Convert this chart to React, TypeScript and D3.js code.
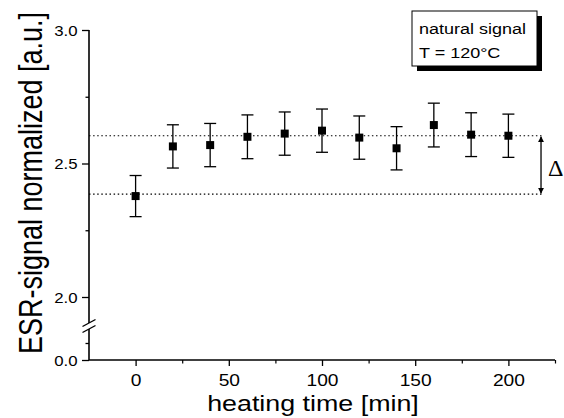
import React, { useEffect, useRef } from "react";
import * as d3 from "d3";

// heating time [min] and normalized ESR signal [a.u.]
const times = [0, 20, 40, 60, 80, 100, 120, 140, 160, 180, 200];
const signal = [2.378, 2.564, 2.569, 2.6, 2.612, 2.623, 2.597, 2.557, 2.644, 2.608, 2.604];
const errors = [0.077, 0.081, 0.081, 0.082, 0.081, 0.081, 0.081, 0.081, 0.082, 0.082, 0.081];

const xMajorTicks = [0, 50, 100, 150, 200];
const xMinorTicks = [25, 75, 125, 175, 225];
const yMajorTicks = [2.0, 2.5, 3.0];
const yMinorTicks = [2.25, 2.75];
const yLowMajorTicks = [0.0];
const yLowMinorTicks = [0.25];

// dotted reference levels and delta marker
const refLevels = [2.385, 2.604];
const refEnd = 219;
const deltaAt = 217.5;

const legendLines = ["natural signal", "T = 120°C"];

const FONT = "'Liberation Sans', Arial, Helvetica, sans-serif";
const STRETCH = "scale(1.2,1)";

const App = () => {
  const svgRef = useRef<SVGSVGElement | null>(null);

  useEffect(() => {
    const svg = d3.select(svgRef.current);
    svg.selectAll("*").remove();

    const width = 564;
    const height = 418;
    const x = d3.scaleLinear().domain([-25, 225]).range([89, 555]);
    const y = d3.scaleLinear().domain([2, 3]).range([297, 30]);
    const yLow = d3.scaleLinear().domain([0, 0.5]).range([360, 326]);
    const axisY = yLow(0);
    const fmt = d3.format(".1f");

    svg.attr("width", width).attr("height", height);

    const defs = svg.append("defs");
    defs
      .append("marker")
      .attr("id", "arrowHead")
      .attr("viewBox", "0 0 10 10")
      .attr("refX", 9)
      .attr("refY", 5)
      .attr("markerWidth", 6)
      .attr("markerHeight", 8)
      .attr("markerUnits", "userSpaceOnUse")
      .attr("orient", "auto-start-reverse")
      .append("path")
      .attr("d", "M0,0 L10,5 L0,10 Z")
      .attr("fill", "#000");

    // x axis
    const gx = svg.append("g").attr("transform", `translate(0,${axisY})`);
    gx.call(
      d3.axisBottom(x).tickValues(xMajorTicks).tickSize(6).tickSizeOuter(0).tickFormat(d3.format("d"))
    );
    gx.select(".domain").remove();
    gx.selectAll("line").attr("stroke", "#000").attr("stroke-width", 1.3);
    gx.selectAll("text")
      .attr("y", 0)
      .attr("dy", 0)
      .attr("transform", `translate(0,26) ${STRETCH}`)
      .attr("font-size", 16)
      .attr("font-family", FONT)
      .attr("fill", "#000");
    const gxMinor = svg.append("g").attr("transform", `translate(0,${axisY})`);
    gxMinor.call(d3.axisBottom(x).tickValues(xMinorTicks).tickSize(3.5).tickFormat(() => ""));
    gxMinor.select(".domain").remove();
    gxMinor.selectAll("line").attr("stroke", "#000").attr("stroke-width", 1.2);

    svg
      .append("line")
      .attr("x1", x(-25))
      .attr("x2", x(225))
      .attr("y1", axisY)
      .attr("y2", axisY)
      .attr("stroke", "#000")
      .attr("stroke-width", 1.6);

    // y axes (upper and lower segment)
    const yLeft = x(-25);
    const styleYAxis = (g: any, labelled: boolean) => {
      g.select(".domain").remove();
      g.selectAll("line").attr("stroke", "#000").attr("stroke-width", 1.3);
      if (labelled) {
        g.selectAll("text")
          .attr("x", 0)
          .attr("dy", "0.36em")
          .attr("transform", `translate(-11.5,0) ${STRETCH}`)
          .attr("font-size", 14)
          .attr("font-family", FONT)
          .attr("fill", "#000");
      }
    };
    const gy = svg.append("g").attr("transform", `translate(${yLeft},0)`);
    gy.call(d3.axisLeft(y).tickValues(yMajorTicks).tickSize(7).tickFormat((d: any) => fmt(d)));
    styleYAxis(gy, true);
    const gyMinor = svg.append("g").attr("transform", `translate(${yLeft},0)`);
    gyMinor.call(d3.axisLeft(y).tickValues(yMinorTicks).tickSize(3.5).tickFormat(() => ""));
    styleYAxis(gyMinor, false);
    const gyLow = svg.append("g").attr("transform", `translate(${yLeft},0)`);
    gyLow.call(d3.axisLeft(yLow).tickValues(yLowMajorTicks).tickSize(7).tickFormat((d: any) => fmt(d)));
    styleYAxis(gyLow, true);
    const gyLowMinor = svg.append("g").attr("transform", `translate(${yLeft},0)`);
    gyLowMinor.call(d3.axisLeft(yLow).tickValues(yLowMinorTicks).tickSize(3.5).tickFormat(() => ""));
    styleYAxis(gyLowMinor, false);

    const breakTop = 323;
    const breakBottom = 329;
    svg
      .append("line")
      .attr("x1", yLeft)
      .attr("x2", yLeft)
      .attr("y1", y(3))
      .attr("y2", breakTop)
      .attr("stroke", "#000")
      .attr("stroke-width", 1.6);
    svg
      .append("line")
      .attr("x1", yLeft)
      .attr("x2", yLeft)
      .attr("y1", breakBottom)
      .attr("y2", axisY)
      .attr("stroke", "#000")
      .attr("stroke-width", 1.6);
    [breakTop, breakBottom].forEach((by) => {
      svg
        .append("line")
        .attr("x1", yLeft - 6.5)
        .attr("x2", yLeft + 6.5)
        .attr("y1", by + 3.5)
        .attr("y2", by - 3.5)
        .attr("stroke", "#000")
        .attr("stroke-width", 1.4);
    });

    // dotted reference lines
    svg
      .selectAll(".ref")
      .data(refLevels)
      .enter()
      .append("line")
      .attr("class", "ref")
      .attr("x1", yLeft)
      .attr("x2", x(refEnd))
      .attr("y1", (d) => y(d))
      .attr("y2", (d) => y(d))
      .attr("stroke", "#000")
      .attr("stroke-width", 1.2)
      .attr("stroke-dasharray", "1.5,2.6");

    // delta arrow
    svg
      .append("line")
      .attr("x1", x(deltaAt))
      .attr("x2", x(deltaAt))
      .attr("y1", y(refLevels[1]) + 1)
      .attr("y2", y(refLevels[0]) - 1)
      .attr("stroke", "#000")
      .attr("stroke-width", 1.3)
      .attr("marker-start", "url(#arrowHead)")
      .attr("marker-end", "url(#arrowHead)");
    svg
      .append("text")
      .attr("x", x(deltaAt) + 7)
      .attr("y", (y(refLevels[0]) + y(refLevels[1])) / 2 + 11)
      .attr("font-size", 24)
      .attr("font-family", "'Liberation Serif', 'Times New Roman', serif")
      .attr("fill", "#000")
      .text("Δ");

    // error bars
    const pts = times.map((t, i) => ({ t, v: signal[i], e: errors[i] }));
    const bars = svg.selectAll(".err").data(pts).enter().append("g").attr("class", "err");
    bars
      .append("line")
      .attr("x1", (d) => x(d.t))
      .attr("x2", (d) => x(d.t))
      .attr("y1", (d) => y(d.v + d.e))
      .attr("y2", (d) => y(d.v - d.e))
      .attr("stroke", "#000")
      .attr("stroke-width", 1.3);
    [1, -1].forEach((s) => {
      bars
        .append("line")
        .attr("x1", (d) => x(d.t) - 6)
        .attr("x2", (d) => x(d.t) + 6)
        .attr("y1", (d) => y(d.v + s * d.e))
        .attr("y2", (d) => y(d.v + s * d.e))
        .attr("stroke", "#000")
        .attr("stroke-width", 1.3);
    });

    // markers
    svg
      .selectAll(".pt")
      .data(pts)
      .enter()
      .append("rect")
      .attr("class", "pt")
      .attr("x", (d) => x(d.t) - 4)
      .attr("y", (d) => y(d.v) - 4)
      .attr("width", 8)
      .attr("height", 8)
      .attr("fill", "#000");

    // legend box
    const lg = svg.append("g").attr("transform", "translate(412,11)");
    lg.append("rect").attr("x", 5).attr("y", 5).attr("width", 125).attr("height", 55).attr("fill", "#000");
    lg.append("rect")
      .attr("width", 125)
      .attr("height", 55)
      .attr("fill", "#fff")
      .attr("stroke", "#000")
      .attr("stroke-width", 1);
    lg.selectAll("text")
      .data(legendLines)
      .enter()
      .append("text")
      .attr("transform", (_, i) => `translate(7,${23 + i * 24}) ${STRETCH}`)
      .attr("font-size", 15)
      .attr("font-family", FONT)
      .attr("fill", "#000")
      .text((d) => d);

    // axis titles
    svg
      .append("text")
      .attr("transform", `translate(313,411) scale(1.22,1)`)
      .attr("text-anchor", "middle")
      .attr("font-size", 22)
      .attr("font-family", FONT)
      .attr("fill", "#000")
      .text("heating time [min]");
    svg
      .append("text")
      .attr("transform", "translate(42,183) rotate(-90) scale(1,1.2)")
      .attr("text-anchor", "middle")
      .attr("font-size", 27)
      .attr("font-family", FONT)
      .attr("fill", "#000")
      .text("ESR-signal normalized [a.u.]");
  }, []);

  return (
    <svg
      ref={svgRef}
      width={564}
      height={418}
      style={{ position: "absolute", left: 0, top: 0, background: "#fff" }}
    />
  );
};

export default App;
